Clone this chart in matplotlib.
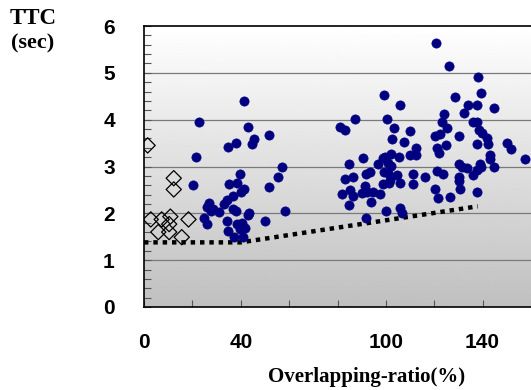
import numpy as np
import matplotlib
matplotlib.use("Agg")
import matplotlib.pyplot as plt
from matplotlib.ticker import MultipleLocator

# open diamonds (small overlap group)
dia_x = [1.5, 12.3, 12.3, 2.8, 7.3, 10.9, 10.4, 18.4, 5.9, 10.4, 15.6]
dia_y = [3.45, 2.75, 2.51, 1.87, 1.87, 1.93, 1.77, 1.87, 1.60, 1.60, 1.49]

# filled circles
dot_x = [41.4, 22.6, 42.8, 45.5, 51.6, 38.1, 34.8, 44.8, 21.5, 57.0,
         39.5, 55.6, 20.2, 35.3, 38.4, 51.6, 41.4, 40.3, 37.0, 34.2,
         26.8, 33.1, 26.2, 28.7, 36.7, 31.2, 27.6, 38.1, 43.6, 42.8,
         58.4, 24.8, 26.2, 34.5, 50.2, 38.6, 40.6, 41.7, 34.9, 37.4,
         40.9, 39.5,
         120.6, 126.2, 138.2, 99.3, 139.4, 105.9, 128.7, 144.9, 133.9, 137.5,
         132.1, 124.1, 87.1, 100.5, 123.3, 136.1, 137.8, 80.9, 82.9, 103.4,
         110.0, 125.3, 138.4, 139.7, 120.5, 122.3, 130.1, 102.6, 107.4, 141.9,
         150.2, 151.6, 124.8, 121.2, 112.6, 121.9, 137.5, 142.2, 143.0, 143.0,
         157.6, 90.4, 99.8, 102.1, 105.3, 109.9, 112.6, 98.8, 96.6, 84.6,
         100.7, 102.1, 130.4, 131.3, 133.6, 138.8, 139.4, 144.9, 137.8, 121.2,
         123.7, 93.6, 91.9, 99.1, 100.9, 104.6, 111.3, 116.1, 135.9, 82.9,
         86.4, 130.1, 130.1, 98.8, 101.2, 101.9, 106.0, 111.3, 85.3, 91.5,
         81.7, 86.4, 90.1, 92.2, 94.7, 97.7, 93.9, 84.6, 120.5, 130.8,
         121.6, 126.7, 137.5, 99.9, 106.0, 106.7, 91.9]
dot_y = [4.40, 3.95, 3.85, 3.59, 3.67, 3.50, 3.41, 3.47, 3.21, 2.98,
         2.85, 2.77, 2.60, 2.63, 2.65, 2.57, 2.53, 2.46, 2.36, 2.28,
         2.23, 2.20, 2.14, 2.10, 2.10, 2.03, 2.04, 2.06, 2.00, 1.97,
         2.06, 1.89, 1.77, 1.83, 1.83, 1.77, 1.79, 1.69, 1.63, 1.50,
         1.50, 1.66,
         5.63, 5.15, 4.92, 4.53, 4.57, 4.31, 4.49, 4.24, 4.31, 4.31,
         4.14, 4.12, 4.02, 4.02, 3.96, 3.94, 3.96, 3.84, 3.79, 3.82,
         3.76, 3.82, 3.78, 3.71, 3.66, 3.69, 3.66, 3.59, 3.53, 3.60,
         3.51, 3.37, 3.46, 3.39, 3.40, 3.28, 3.47, 3.47, 3.25, 3.16,
         3.15, 3.19, 3.21, 3.26, 3.20, 3.25, 3.25, 3.18, 3.05, 3.05,
         3.08, 3.01, 3.05, 2.98, 2.96, 3.05, 2.98, 2.99, 2.93, 2.91,
         2.85, 2.89, 2.85, 2.89, 2.87, 2.82, 2.84, 2.78, 2.82, 2.73,
         2.77, 2.77, 2.68, 2.63, 2.64, 2.71, 2.64, 2.63, 2.50, 2.58,
         2.41, 2.37, 2.43, 2.46, 2.45, 2.41, 2.25, 2.18, 2.53, 2.51,
         2.33, 2.34, 2.46, 2.06, 2.12, 2.01, 1.89]

# lower bound line
bound_x = [0, 40, 138]
bound_y = [1.38, 1.38, 2.15]

xtick_pos = [0, 20, 40, 60, 80, 100, 120, 140, 160]
xtick_lab = ['0', '', '40', '', '', '100', '', '140', '']

W, H = 531, 390
fig = plt.figure(figsize=(W / 100, H / 100), dpi=100)
ax = fig.add_axes([144 / W, 83 / H, 387 / W, 281 / H])

# gray-to-white background
grad = np.linspace(0.75, 1.0, 256).reshape(-1, 1)
ax.imshow(grad, cmap='gray', vmin=0, vmax=1, aspect='auto',
          extent=[0, 160, 6, 0], zorder=0)

ax.set_xlim(0, 160)
ax.set_ylim(0, 6)

for yy in range(1, 6):
    ax.axhline(yy, color='#7a7a7a', lw=0.9, zorder=1)

ax.plot(bound_x, bound_y, color='black', lw=3.2, linestyle=(0, (1, 1.1)),
        dash_capstyle='butt', zorder=2)
ax.scatter(dot_x, dot_y, s=44, color='#000080', edgecolors='#000080',
           linewidths=0.5, zorder=3)
ax.scatter(dia_x, dia_y, s=60, marker='D', facecolors='none',
           edgecolors='black', linewidths=0.9, zorder=3)

ax.set_xticks(xtick_pos)
ax.set_xticklabels(xtick_lab)
ax.set_yticks(range(7))
ax.yaxis.set_minor_locator(MultipleLocator(0.2))
ax.tick_params(axis='both', which='both', direction='in', length=5,
               color='#555555', width=0.8)
ax.tick_params(axis='x', pad=19, labelsize=15)
ax.tick_params(axis='y', pad=21, labelsize=15)
for lab in ax.get_xticklabels() + ax.get_yticklabels():
    lab.set_fontfamily('Liberation Sans')
    lab.set_fontweight('bold')

ax.spines['right'].set_visible(False)
for s in ['left', 'bottom', 'top']:
    ax.spines[s].set_linewidth(1.2)

fig.text(33 / W, 1 - 18 / H, 'TTC', ha='center', va='center',
         family='Liberation Serif', weight='bold', fontsize=16.5)
fig.text(33 / W, 1 - 43 / H, '(sec)', ha='center', va='center',
         family='Liberation Serif', weight='bold', fontsize=16)
fig.text(367 / W, 1 - 377 / H, 'Overlapping-ratio(%)', ha='center',
         va='center', family='Liberation Serif', weight='bold', fontsize=15)

fig.savefig('out.png', dpi=100)
